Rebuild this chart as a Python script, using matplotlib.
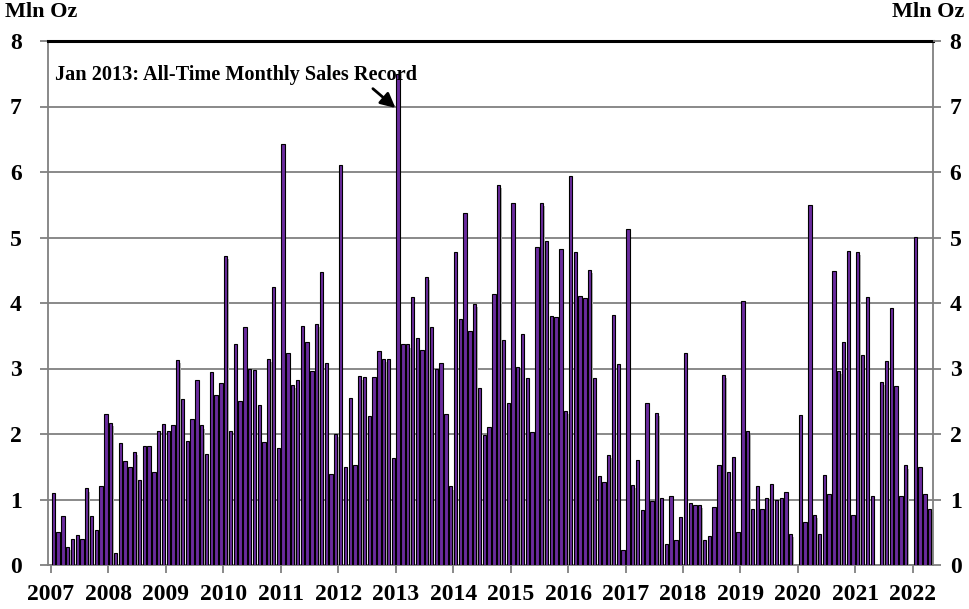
import numpy as np
import matplotlib
matplotlib.use('Agg')
import matplotlib.pyplot as plt

# Monthly sales, million oz (Jan..Dec)
years = list(range(2007, 2023))
sales_2007 = [1.10, 0.50, 0.75, 0.28, 0.40, 0.46, 0.40, 1.17, 0.75, 0.54, 1.20, 2.31]
sales_2008 = [2.17, 0.19, 1.86, 1.59, 1.50, 1.73, 1.30, 1.81, 1.81, 1.42, 2.05, 2.15]
sales_2009 = [2.05, 2.13, 3.13, 2.53, 1.90, 2.23, 2.82, 2.13, 1.69, 2.94, 2.59, 2.78]
sales_2010 = [4.72, 2.05, 3.38, 2.50, 3.63, 3.00, 2.98, 2.44, 1.88, 3.15, 4.25, 1.78]
sales_2011 = [6.42, 3.23, 2.75, 2.82, 3.65, 3.40, 2.96, 3.68, 4.47, 3.08, 1.39, 2.00]
sales_2012 = [6.11, 1.49, 2.55, 1.53, 2.88, 2.87, 2.28, 2.87, 3.26, 3.15, 3.15, 1.64]
sales_2013 = [7.50, 3.37, 3.37, 4.09, 3.47, 3.28, 4.40, 3.63, 3.00, 3.09, 2.30, 1.20]
sales_2014 = [4.78, 3.76, 5.37, 3.57, 3.99, 2.70, 1.98, 2.10, 4.13, 5.80, 3.43, 2.47]
sales_2015 = [5.53, 3.02, 3.53, 2.86, 2.03, 4.85, 5.53, 4.95, 3.80, 3.78, 4.82, 2.35]
sales_2016 = [5.94, 4.78, 4.11, 4.07, 4.51, 2.85, 1.36, 1.27, 1.68, 3.82, 3.07, 0.23]
sales_2017 = [5.13, 1.22, 1.61, 0.84, 2.47, 0.98, 2.32, 1.03, 0.32, 1.05, 0.38, 0.74]
sales_2018 = [3.24, 0.94, 0.92, 0.92, 0.38, 0.44, 0.89, 1.52, 2.90, 1.42, 1.65, 0.50]
sales_2019 = [4.03, 2.04, 0.86, 1.20, 0.86, 1.03, 1.24, 0.99, 1.02, 1.11, 0.47, 0.00]
sales_2020 = [2.29, 0.65, 5.49, 0.76, 0.48, 1.38, 1.08, 4.49, 2.96, 3.40, 4.80, 0.76]
sales_2021 = [4.78, 3.20, 4.09, 1.05, 0.00, 2.80, 3.11, 3.92, 2.74, 1.06, 1.52, 0.00]
sales_2022 = [5.01, 1.50, 1.08, 0.86]

values = np.array(sales_2007 + sales_2008 + sales_2009 + sales_2010 + sales_2011 +
                  sales_2012 + sales_2013 + sales_2014 + sales_2015 + sales_2016 +
                  sales_2017 + sales_2018 + sales_2019 + sales_2020 + sales_2021 +
                  sales_2022)
n = len(values)
x = np.arange(n)
nz = values > 0

plt.rcParams['font.family'] = ['Liberation Serif', 'DejaVu Serif']
plt.rcParams['font.weight'] = 'bold'

W, H = 969, 609
fig = plt.figure(figsize=(W / 100, H / 100), dpi=100)
left_px, right_px, top_px, bot_px = 48, 933, 41, 565
ax = fig.add_axes([left_px / W, 1 - bot_px / H, (right_px - left_px) / W, (bot_px - top_px) / H])

grey = '#808080'
bar_color = '#6A2C9E'

# shadow
ax.bar(x[nz] + 0.5 + 0.25, np.maximum(values[nz] - 0.05, 0), width=0.7,
       color='#b4b4b4', linewidth=0, zorder=2)
ax.bar(x[nz] + 0.5, values[nz], width=0.7, color=bar_color,
       edgecolor='black', linewidth=0.8, zorder=3)

ax.set_xlim(-0.6, 184.2)
ax.set_ylim(0, 8)
ax.set_axisbelow(True)
ax.yaxis.grid(True, color=grey, linewidth=1.3)

for side in ['left', 'right', 'bottom']:
    ax.spines[side].set_color(grey)
    ax.spines[side].set_linewidth(1.3)
ax.spines['top'].set_color('black')
ax.spines['top'].set_linewidth(2.2)

ax.set_yticks(range(0, 9))
ax.set_yticklabels([str(v) for v in range(0, 9)])
ax.tick_params(axis='y', direction='out', length=6, width=1.3, color=grey,
               pad=13, labelsize=17)
ax.set_xticks(np.arange(len(years)) * 12)
ax.set_xticklabels([str(y) for y in years])
ax.tick_params(axis='x', direction='out', length=6, width=1.3, color=grey,
               pad=8, labelsize=17)

ax2 = ax.twinx()
ax2.set_ylim(0, 8)
ax2.set_yticks(range(0, 9))
ax2.set_yticklabels([str(v) for v in range(0, 9)])
ax2.tick_params(axis='y', direction='out', length=6, width=1.3, color=grey,
                pad=6, labelsize=17)
for s in ax2.spines.values():
    s.set_visible(False)

fig.text(5 / W, 1 - 12 / H, 'Mln Oz', ha='left', va='center', fontsize=16, fontweight='bold')
fig.text(964 / W, 1 - 12 / H, 'Mln Oz', ha='right', va='center', fontsize=16, fontweight='bold')

ax.text(0.9, 7.48, 'Jan 2013: All-Time Monthly Sales Record', ha='left', va='center',
        fontsize=14.6, fontweight='bold', zorder=5)
ax.annotate('', xy=(72.4, 6.95), xytext=(66.8, 7.3),
            arrowprops=dict(arrowstyle='-|>', color='black', lw=2.0, mutation_scale=22),
            zorder=5)

fig.savefig('out.png', dpi=100)
